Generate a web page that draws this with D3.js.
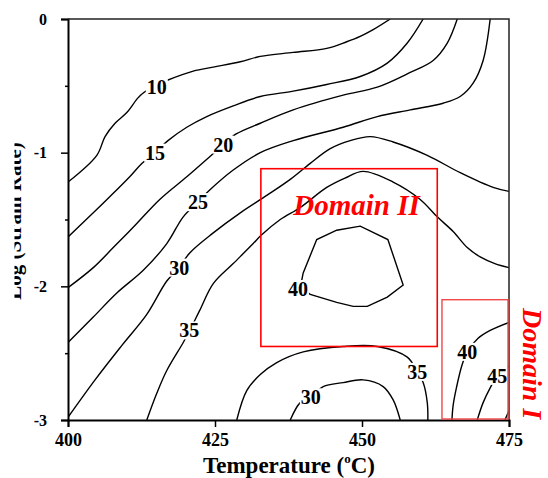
<!DOCTYPE html>
<html>
<head>
<meta charset="utf-8">
<script src="https://cdn.jsdelivr.net/npm/d3@7"></script>
<style>
  html, body { margin: 0; padding: 0; background: #fff; }
  svg { display: block; }
  text { font-family: "Liberation Serif", "Times New Roman", serif; font-weight: bold; }
</style>
</head>
<body>
<svg id="chart" width="548" height="478"></svg>
<script>
// Axis ticks
const tempTicks = [400, 425, 450, 475];
const rateTicks = [0, -1, -2, -3];
const rateMinorTicks = [-0.5, -1.5, -2.5];

// Iso-efficiency contours: [temperature (°C), log strain rate]
const c10 = [[400,-1.22],[404.9,-1.02],[406.3,-0.88],[408,-0.78],[410,-0.70],[411.9,-0.59],[412.9,-0.55],[414.8,-0.50],[416.8,-0.46],[421.3,-0.39],[424.7,-0.36],[429.3,-0.32],[432.7,-0.28],[438.3,-0.25],[444,-0.22],[447.4,-0.17],[449.7,-0.13],[451.9,-0.08],[454.8,0]];
const c15 = [[400,-1.63],[404.3,-1.45],[407.1,-1.33],[410.5,-1.18],[412.6,-1.08],[414.8,-1.00],[417,-0.91],[420.2,-0.81],[423.6,-0.73],[428.1,-0.65],[432.7,-0.58],[438.3,-0.54],[444,-0.49],[449.7,-0.43],[454.3,-0.33],[457.7,-0.18],[460.4,0]];
const c20 = [[400,-2.01],[404.3,-1.86],[407.7,-1.71],[411.7,-1.53],[415.6,-1.35],[420.2,-1.18],[424.1,-1.03],[426.4,-0.94],[428.6,-0.86],[432.7,-0.78],[438.3,-0.68],[446.8,-0.57],[452.6,-0.51],[458.2,-0.40],[462.1,-0.31],[464.5,-0.18],[466.2,0]];
const c25 = [[400,-2.42],[404.3,-2.23],[408.3,-2.05],[412.8,-1.88],[416.8,-1.68],[419.6,-1.48],[422.1,-1.37],[424.1,-1.28],[428.1,-1.13],[432.7,-1.00],[438.3,-0.91],[446.8,-0.81],[452.6,-0.73],[458.2,-0.68],[463.8,-0.63],[466.7,-0.58],[468.9,-0.48],[470.6,-0.31],[471.8,0]];
const c30 = [[400,-2.98],[404.6,-2.70],[409.2,-2.44],[413.4,-2.21],[416.8,-1.96],[418.9,-1.86],[420.7,-1.75],[424.7,-1.60],[429.3,-1.45],[433.8,-1.32],[437.8,-1.20],[441.2,-1.08],[444.6,-0.97],[448,-0.91],[451.4,-0.88],[455.3,-0.92],[461.1,-1.02],[466.7,-1.15],[472.3,-1.26],[475,-1.29]];
const c35 = [[413.4,-3],[415.1,-2.80],[416.8,-2.63],[419.6,-2.42],[420.7,-2.33],[422.4,-2.18],[424.7,-1.98],[428.1,-1.83],[431.5,-1.68],[432.8,-1.62],[436.1,-1.50],[439.5,-1.41],[444,-1.26],[447.1,-1.19],[450.2,-1.14],[455.3,-1.22],[459.9,-1.35],[462.8,-1.48],[465.5,-1.59],[467.9,-1.71],[470.1,-1.78],[472.6,-1.83],[475,-1.86]];
const c35Low = [[428.7,-3],[430.4,-2.78],[432.7,-2.66],[435.5,-2.57],[440,-2.49],[446.8,-2.45],[452.6,-2.45],[457.7,-2.53],[459.4,-2.64],[460.4,-2.72],[461.1,-2.87],[461.2,-3]];
const c30Low = [[437.8,-3],[439.5,-2.87],[441.3,-2.83],[443.4,-2.75],[446.8,-2.72],[450.2,-2.70],[453.6,-2.75],[455.3,-2.85],[456.5,-3]];
const c40Peak = [[439.5,-2.01],[440,-1.90],[442.3,-1.65],[445.7,-1.58],[449.7,-1.55],[454.4,-1.65],[457,-1.99],[454.3,-2.08],[450.9,-2.15],[448.5,-2.15],[445.7,-2.12],[441.2,-2.06]];
const c40Edge = [[465.3,-3],[465.5,-2.89],[466.1,-2.75],[467,-2.59],[467.9,-2.49],[469.7,-2.39],[471.8,-2.33],[475,-2.27]];
const c45 = [[469.6,-3],[470.6,-2.87],[471.8,-2.76],[473,-2.67],[475,-2.60]];
const c50 = [[474.3,-3],[475,-2.93]];

// Contour labels: [temperature, log strain rate, efficiency %]
const contourLabels = [
  [415.1,-0.51,10],[414.8,-1.00,15],[426.4,-0.94,20],[422.1,-1.37,25],
  [418.9,-1.86,30],[420.6,-2.33,35],[439.1,-2.02,40],[459.4,-2.64,35],
  [441.3,-2.83,30],[467.9,-2.49,40],[473.0,-2.67,45]
];

// Stable domains: temperature range, log strain rate range
const domainII = { T: [432.8, 462.8], L: [-1.12, -2.45], name: "Domain II" };
const domainI  = { T: [463.6, 475.0], L: [-2.10, -3.00], name: "Domain I" };

const svg = d3.select("#chart");
const x = d3.scaleLinear().domain([400, 475]).range([68, 509]);
const y = d3.scaleLinear().domain([-3, 0]).range([420, 19]);

svg.append("defs").append("clipPath").attr("id", "plotClip")
  .append("rect").attr("x", 68).attr("y", 19).attr("width", 441).attr("height", 401);

const openLine = d3.line().x(d => x(d[0])).y(d => y(d[1])).curve(d3.curveCatmullRom.alpha(0.5));
const closedLine = d3.line().x(d => x(d[0])).y(d => y(d[1])).curve(d3.curveLinearClosed);

const plot = svg.append("g").attr("clip-path", "url(#plotClip)");
[c10, c15, c20, c25, c30, c35, c35Low, c30Low, c40Edge, c45, c50].forEach(c => {
  plot.append("path").attr("d", openLine(c))
    .attr("fill", "none").attr("stroke", "#000").attr("stroke-width", 1.4);
});
plot.append("path").attr("d", closedLine(c40Peak))
  .attr("fill", "none").attr("stroke", "#000").attr("stroke-width", 1.4);

// Labels sit on a white patch that breaks the line
const lab = svg.append("g");
contourLabels.forEach(([t, l, v]) => {
  const g = lab.append("g");
  const txt = g.append("text")
    .attr("x", x(t)).attr("y", y(l)).attr("dy", "0.35em")
    .attr("text-anchor", "middle").attr("font-size", 20).attr("fill", "#000")
    .text(v);
  const b = txt.node().getBBox();
  g.insert("rect", "text")
    .attr("x", b.x - 1).attr("y", b.y + 2).attr("width", b.width + 2).attr("height", b.height - 4)
    .attr("fill", "#fff");
});

// Axes
const yAxis = svg.append("g").attr("transform", "translate(68,0)")
  .call(d3.axisLeft(y).tickValues(rateTicks).tickSize(7).tickPadding(14).tickFormat(d => String(d)));
svg.append("g").attr("transform", "translate(68,0)")
  .call(d3.axisLeft(y).tickValues(rateMinorTicks).tickSize(3).tickFormat(""))
  .call(g => g.select(".domain").remove());
const xAxis = svg.append("g").attr("transform", "translate(0,420)")
  .call(d3.axisBottom(x).tickValues(tempTicks).tickSize(7).tickPadding(6).tickFormat(d => String(d)));

svg.selectAll(".domain").attr("stroke", "#000").attr("stroke-width", 2);
svg.selectAll(".tick line").attr("stroke", "#000").attr("stroke-width", 1.5);
yAxis.selectAll("text").attr("font-size", 16).attr("fill", "#000")
  .attr("font-family", "'Liberation Serif', serif").attr("font-weight", "bold");
xAxis.selectAll("text").attr("font-size", 18).attr("fill", "#000")
  .attr("font-family", "'Liberation Serif', serif").attr("font-weight", "bold");

// Top and right frame
svg.append("path")
  .attr("d", `M${x(400)},${y(0)}H${x(475)}V${y(-3)}`)
  .attr("fill", "none").attr("stroke", "#222").attr("stroke-width", 1.5);

// Axis titles
const xt = svg.append("text").attr("x", 289).attr("y", 473).attr("text-anchor", "middle")
  .attr("font-size", 23).attr("fill", "#000");
xt.append("tspan").text("Temperature (");
xt.append("tspan").attr("font-size", 13).attr("dy", -10).text("o");
xt.append("tspan").attr("dy", 10).text("C)");

svg.append("defs").append("clipPath").attr("id", "yTitleClip")
  .append("rect").attr("x", 14.5).attr("y", 0).attr("width", 60).attr("height", 478);
svg.append("g").attr("clip-path", "url(#yTitleClip)")
  .append("text")
  .attr("transform", "translate(21,221) rotate(-90)")
  .attr("text-anchor", "middle").attr("font-size", 21).attr("fill", "#000")
  .text("Log (Strain Rate)");

// Domain boxes
svg.append("rect")
  .attr("x", x(domainII.T[0])).attr("y", y(domainII.L[0]))
  .attr("width", x(domainII.T[1]) - x(domainII.T[0]))
  .attr("height", y(domainII.L[1]) - y(domainII.L[0]))
  .attr("fill", "none").attr("stroke", "#ff0000").attr("stroke-width", 1.6);
svg.append("rect")
  .attr("x", x(domainI.T[0])).attr("y", y(domainI.L[0]))
  .attr("width", x(domainI.T[1]) - x(domainI.T[0]) - 1)
  .attr("height", y(domainI.L[1]) - y(domainI.L[0]) - 1)
  .attr("fill", "none").attr("stroke", "#f04848").attr("stroke-width", 1.4);

svg.append("text").attr("x", x(438.3)).attr("y", y(-1.466))
  .attr("font-size", 29).attr("font-style", "italic").attr("fill", "#ff0000")
  .text(domainII.name);
svg.append("text").attr("transform", "translate(523,308) rotate(90)")
  .attr("font-size", 28).attr("font-style", "italic").attr("fill", "#ff0000")
  .text(domainI.name);
</script>
</body>
</html>
